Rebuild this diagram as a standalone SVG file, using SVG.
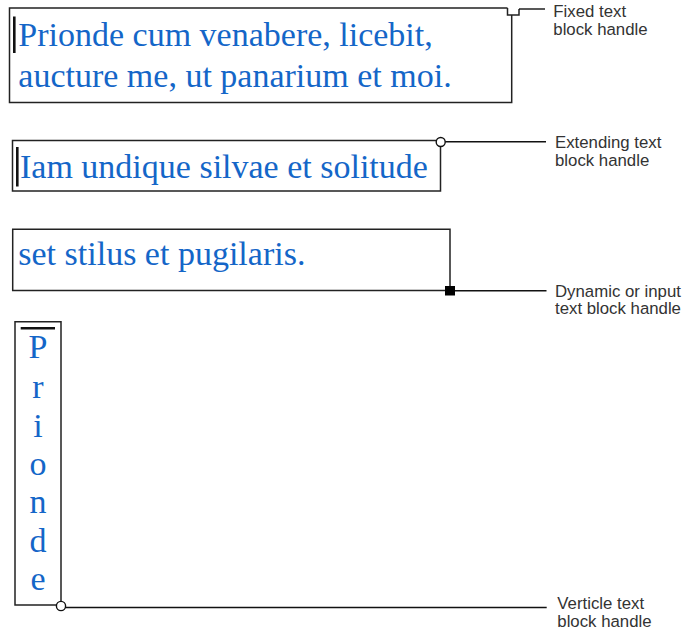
<svg xmlns="http://www.w3.org/2000/svg" width="686" height="632" viewBox="0 0 686 632">
<style>
.box{fill:none;stroke:#222;stroke-width:1.5}
.con{fill:none;stroke:#111;stroke-width:1.4}
.txt{font-family:"Liberation Serif","Times New Roman",serif;font-size:34px;fill:#1466c8}
.vt{font-family:"Liberation Serif","Times New Roman",serif;font-size:34px;fill:#1466c8;text-anchor:middle}
.lbl{font-family:"Liberation Sans",Arial,sans-serif;font-size:16.8px;fill:#333}
.cur{stroke:#111;stroke-width:2.6}
</style>
<rect width="686" height="632" fill="#fff"/>
<g id="fixed-block">
<path class="box" d="M507.5,8 H9.5 V102.5 H511.7 V15"/>
<path class="box" d="M507.5,8 V15 H519 V9"/>
<line class="cur" x1="14.3" y1="16.5" x2="14.3" y2="53"/>
<text class="txt" x="18.3" y="45.7">Prionde cum venabere, licebit,</text>
<text class="txt" x="18.3" y="87.3">aucture me, ut panarium et moi.</text>
</g>
<g id="extending-block">
<path class="box" d="M436,140.5 H12.5 V191 H440.5 V146.8"/>
<circle cx="440.7" cy="142" r="4.5" fill="#fff" stroke="#111" stroke-width="1.4"/>
<line class="cur" x1="17.3" y1="147" x2="17.3" y2="186.5"/>
<text class="txt" x="20" y="178.3">Iam undique silvae et solitude</text>
</g>
<g id="dynamic-block">
<path class="box" d="M450,286 V229.3 H12.7 V290.5 H445"/>
<rect x="445" y="286" width="10" height="9.5" fill="#000"/>
<text class="txt" x="18.3" y="265">set stilus et pugilaris.</text>
</g>
<g id="vertical-block">
<path class="box" d="M61,601 V321.7 H15 V605 H56.5"/>
<circle cx="61" cy="606" r="4.6" fill="#fff" stroke="#111" stroke-width="1.4"/>
<line class="cur" x1="20.7" y1="328.3" x2="55" y2="328.3"/>
<text class="vt" x="38" y="358.3">P</text>
<text class="vt" x="38" y="398.3">r</text>
<text class="vt" x="38" y="436.7">i</text>
<text class="vt" x="38" y="475">o</text>
<text class="vt" x="38" y="513.3">n</text>
<text class="vt" x="38" y="551.7">d</text>
<text class="vt" x="38" y="590">e</text>
</g>
<g id="connectors">
<line class="con" x1="519" y1="9" x2="545" y2="9"/>
<line class="con" x1="445.2" y1="141.8" x2="546" y2="141.8"/>
<line class="con" x1="455" y1="290.7" x2="546.5" y2="290.7"/>
<line class="con" x1="65.6" y1="607.5" x2="546.7" y2="607.5"/>
</g>
<g id="labels">
<text class="lbl" x="553.3" y="17.3">Fixed text</text>
<text class="lbl" x="553.3" y="35">block handle</text>
<text class="lbl" x="555" y="148">Extending text</text>
<text class="lbl" x="555" y="166">block handle</text>
<text class="lbl" x="555" y="296.7">Dynamic or input</text>
<text class="lbl" x="555" y="314">text block handle</text>
<text class="lbl" x="557.3" y="608.5">Verticle text</text>
<text class="lbl" x="557.3" y="626.5">block handle</text>
</g>
</svg>
